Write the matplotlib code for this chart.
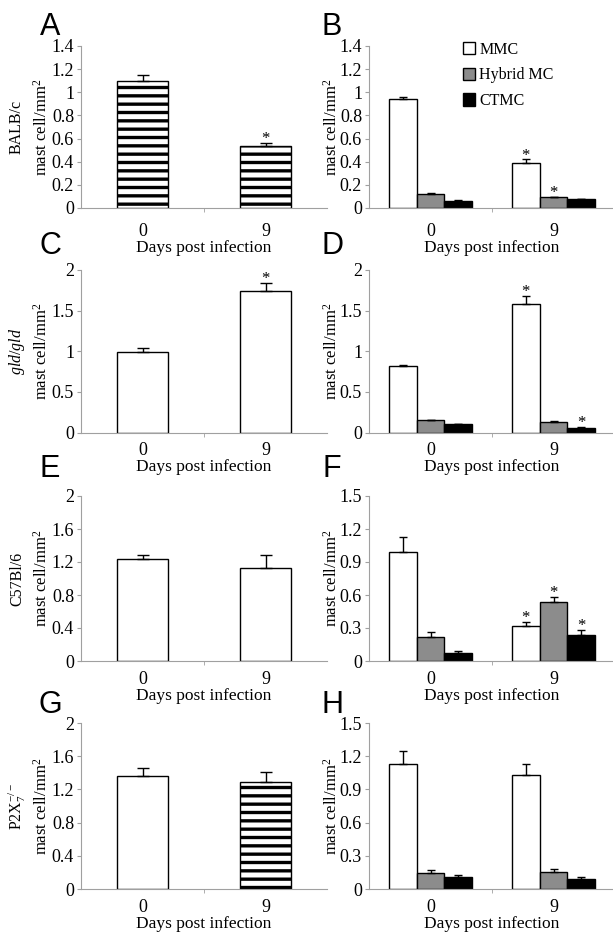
import numpy as np
import matplotlib
matplotlib.use('Agg')
import matplotlib.pyplot as plt
from matplotlib.patches import Patch

plt.rcParams['font.family'] = 'Liberation Serif'
plt.rcParams['mathtext.fontset'] = 'custom'
plt.rcParams['mathtext.rm'] = 'Liberation Serif'
plt.rcParams['mathtext.it'] = 'Liberation Serif:italic'
plt.rcParams['hatch.linewidth'] = 2.4

# Data
days = ['0', '9']
series = ['MMC', 'Hybrid MC', 'CTMC']
strains = ['BALB/c', r'$\mathit{gld/gld}$', 'C57Bl/6', r'P2X$_{\mathit{7}}^{-/-}$']

# left column: total mast cells (day 0, day 9)
a_vals = [1.10, 0.54]
a_err = [0.05, 0.025]
c_vals = [0.99, 1.745]
c_err = [0.05, 0.10]
e_vals = [1.235, 1.125]
e_err = [0.045, 0.155]
g_vals = [1.36, 1.285]
g_err = [0.10, 0.12]

# right column: per subtype, rows = MMC, Hybrid MC, CTMC ; cols = day 0, day 9
b_vals = [[0.94, 0.39], [0.12, 0.092], [0.063, 0.075]]
b_err = [[0.015, 0.03], [0.006, 0.006], [0.006, 0.006]]
d_vals = [[0.82, 1.577], [0.148, 0.127], [0.099, 0.058]]
d_err = [[0.015, 0.10], [0.012, 0.01], [0.006, 0.012]]
f_vals = [[0.99, 0.32], [0.22, 0.532], [0.073, 0.234]]
f_err = [[0.135, 0.037], [0.048, 0.048], [0.018, 0.052]]
h_vals = [[1.128, 1.034], [0.143, 0.155], [0.106, 0.091]]
h_err = [[0.12, 0.10], [0.031, 0.028], [0.022, 0.019]]

# significance markers
a_star = [False, True]
c_star = [False, True]
e_star = [False, False]
g_star = [False, False]
b_star = [[False, True], [False, True], [False, False]]
d_star = [[False, True], [False, False], [False, True]]
f_star = [[False, True], [False, True], [False, True]]
h_star = [[False, False], [False, False], [False, False]]

# striped bars in left column
a_striped = [True, True]
c_striped = [False, False]
e_striped = [False, False]
g_striped = [False, True]

W, H = 613, 939
fig = plt.figure(figsize=(W / 100, H / 100), dpi=100)

# rows in pixels: (top, zero)
rows = [(46, 208), (270, 432.5), (496, 661), (723, 889)]
row_pad = [11, 7, 7, 7]
left_cols = [81, 369]
col_w = 246
axis_col = '#a0a0a0'
colors = ['white', '#8c8c8c', 'black']


def make_ax(col, row, ymax, step):
    top, zero = rows[row]
    x0 = left_cols[col]
    ax = fig.add_axes([x0 / W, 1 - zero / H, col_w / W, (zero - top) / H])
    ax.set_xlim(-0.5, 1.5)
    ax.set_ylim(0, ymax)
    ticks = np.arange(0, ymax + step / 2, step)
    ax.set_yticks(ticks)
    ax.set_yticklabels(['%g' % t for t in ticks])
    ax.set_xticks([0, 1])
    ax.set_xticklabels(days)
    ax.set_xticks([0.5], minor=True)
    ax.tick_params(axis='x', which='major', length=0, pad=row_pad[row], labelsize=13)
    ax.tick_params(axis='x', which='minor', length=3, color=axis_col, direction='out')
    ax.tick_params(axis='y', length=3, color=axis_col, pad=2, labelsize=13)
    for s in ['top', 'right']:
        ax.spines[s].set_visible(False)
    for s in ['left', 'bottom']:
        ax.spines[s].set_color(axis_col)
        ax.spines[s].set_linewidth(0.8)
    ax.set_xlabel('Days post infection', fontsize=12.5, labelpad=0)
    ax.patch.set_alpha(0)
    return ax


def single(ax, vals, err, stars, striped):
    x = np.arange(len(vals))
    for i in range(len(vals)):
        ax.bar(x[i], vals[i], width=0.41, color='white', edgecolor='black',
               linewidth=1, hatch='--' if striped[i] else None, zorder=2)
    ax.errorbar(x, vals, yerr=[np.zeros(len(vals)), err], fmt='none',
                ecolor='black', elinewidth=1, capsize=4, capthick=1, zorder=3)
    for i in range(len(vals)):
        if stars[i]:
            ax.annotate('*', (x[i], vals[i] + err[i]), xytext=(0, -3),
                        textcoords='offset points', ha='center', va='bottom',
                        fontsize=12)


def grouped(ax, vals, err, stars):
    w = 0.225
    x = np.arange(2)
    for k in range(3):
        xs = x + (k - 1) * w
        ax.bar(xs, vals[k], width=w, color=colors[k], edgecolor='black',
               linewidth=1, zorder=2)
        ax.errorbar(xs, vals[k], yerr=[np.zeros(2), err[k]], fmt='none',
                    ecolor='black', elinewidth=1, capsize=3, capthick=1, zorder=3)
        for i in range(2):
            if stars[k][i]:
                ax.annotate('*', (xs[i], vals[k][i] + err[k][i]), xytext=(0, -3),
                            textcoords='offset points', ha='center', va='bottom',
                            fontsize=12)


axA = make_ax(0, 0, 1.4, 0.2)
single(axA, a_vals, a_err, a_star, a_striped)
axB = make_ax(1, 0, 1.4, 0.2)
grouped(axB, b_vals, b_err, b_star)
axC = make_ax(0, 1, 2, 0.5)
single(axC, c_vals, c_err, c_star, c_striped)
axD = make_ax(1, 1, 2, 0.5)
grouped(axD, d_vals, d_err, d_star)
axE = make_ax(0, 2, 2, 0.4)
single(axE, e_vals, e_err, e_star, e_striped)
axF = make_ax(1, 2, 1.5, 0.3)
grouped(axF, f_vals, f_err, f_star)
axG = make_ax(0, 3, 2, 0.4)
single(axG, g_vals, g_err, g_star, g_striped)
axH = make_ax(1, 3, 1.5, 0.3)
grouped(axH, h_vals, h_err, h_star)

# legend in B
handles = [Patch(facecolor=c, edgecolor='black', linewidth=1) for c in colors]
axB.legend(handles, series, loc='upper left', bbox_to_anchor=(0.355, 1.065),
           frameon=False, fontsize=11.5, handlelength=0.8, handleheight=0.8,
           handletextpad=0.25, labelspacing=0.6, borderaxespad=0)

# y labels
for r in range(4):
    top, zero = rows[r]
    yc = 1 - (top + zero) / 2 / H
    fig.text(42 / W, yc, 'mast cell/mm$^2$', rotation=90, ha='center', va='center', fontsize=12)
    fig.text(17 / W, yc, strains[r], rotation=90, ha='center', va='center', fontsize=11.5)
    fig.text(332 / W, yc, 'mast cell/mm$^2$', rotation=90, ha='center', va='center', fontsize=12)

# panel letters
letters = ['A', 'B', 'C', 'D', 'E', 'F', 'G', 'H']
letter_y = [27, 27, 246, 246, 469, 469, 705, 705]
for i, L in enumerate(letters):
    lx = 50 if i % 2 == 0 else 332
    fig.text(lx / W, 1 - letter_y[i] / H, L, ha='center', va='center',
             fontsize=22, family='Liberation Sans')

fig.savefig('out.png', dpi=100)
